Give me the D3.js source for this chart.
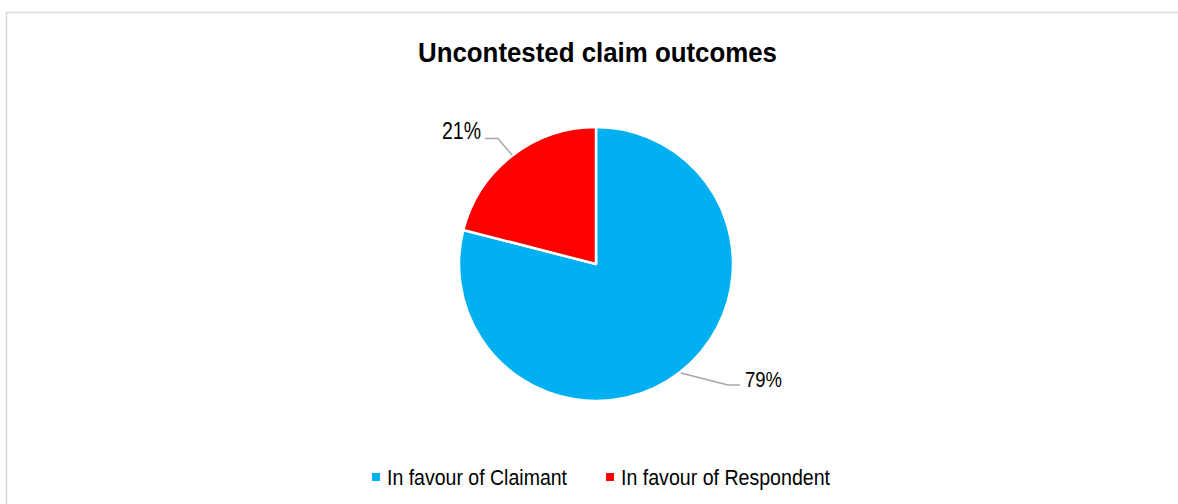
<!DOCTYPE html>
<html><head><meta charset="utf-8">
<script src="https://cdn.jsdelivr.net/npm/d3@7"></script>
<style>body{margin:0;background:#fff;}svg{display:block;}</style>
</head><body>
<svg id="c" width="1178" height="504"></svg>
<script>
const categories = ["In favour of Claimant", "In favour of Respondent"];
const values = [79, 21];
const labels = ["79%", "21%"];
const colors = ["#00B0F0", "#FF0000"];
const title = "Uncontested claim outcomes";

const svg = d3.select("#c");
const FONT = "Liberation Sans, Arial, sans-serif";
svg.append("rect").attr("x", 6.5).attr("y", 12.5).attr("width", 1180).attr("height", 500)
  .attr("fill", "#fff").attr("stroke", "#d9d9d9").attr("stroke-width", 1.5);

svg.append("text").attr("x", 418).attr("y", 62)
  .attr("font-family", FONT).attr("font-weight", "bold")
  .attr("font-size", 28).attr("textLength", 359).attr("lengthAdjust", "spacingAndGlyphs")
  .attr("fill", "#000").text(title);

const cx = 596, cy = 264, r = 137;
const pie = d3.pie().sort(null).value(d => d)(values);
const arc = d3.arc().innerRadius(0).outerRadius(r);
const g = svg.append("g").attr("transform", `translate(${cx},${cy})`);
g.selectAll("path").data(pie).join("path")
  .attr("d", arc).attr("fill", (d, i) => colors[i])
  .attr("stroke", "#fff").attr("stroke-width", 2.5).attr("stroke-linejoin", "round");

// leader lines & labels
const leaders = [
  { pts: [[681, 373], [728, 385], [740, 385]], tx: 745, ty: 387, w: 37, fs: 22 },
  { pts: [[512, 155], [498, 138.5], [485, 138.5]], tx: 442, ty: 139, w: 39, fs: 23.5 }
];
pie.forEach((d, i) => {
  const L = leaders[i];
  svg.append("polyline").attr("points", L.pts.map(p => p.join(",")).join(" "))
    .attr("fill", "none").attr("stroke", "#a6a6a6").attr("stroke-width", 1.5);
  svg.append("text").attr("x", L.tx).attr("y", L.ty)
    .attr("font-family", FONT).attr("font-size", L.fs)
    .attr("textLength", L.w).attr("lengthAdjust", "spacingAndGlyphs")
    .attr("fill", "#000").text(labels[i]);
});

// legend
const leg = [{ x: 372, i: 0, w: 180 }, { x: 606, i: 1, w: 209 }];
leg.forEach(l => {
  svg.append("rect").attr("x", l.x).attr("y", 473).attr("width", 8).attr("height", 8).attr("fill", colors[l.i]);
  svg.append("text").attr("x", l.x + 15).attr("y", 485)
    .attr("font-family", FONT).attr("font-size", 21.5)
    .attr("textLength", l.w).attr("lengthAdjust", "spacingAndGlyphs")
    .attr("fill", "#000").text(categories[l.i]);
});
</script>
</body></html>
